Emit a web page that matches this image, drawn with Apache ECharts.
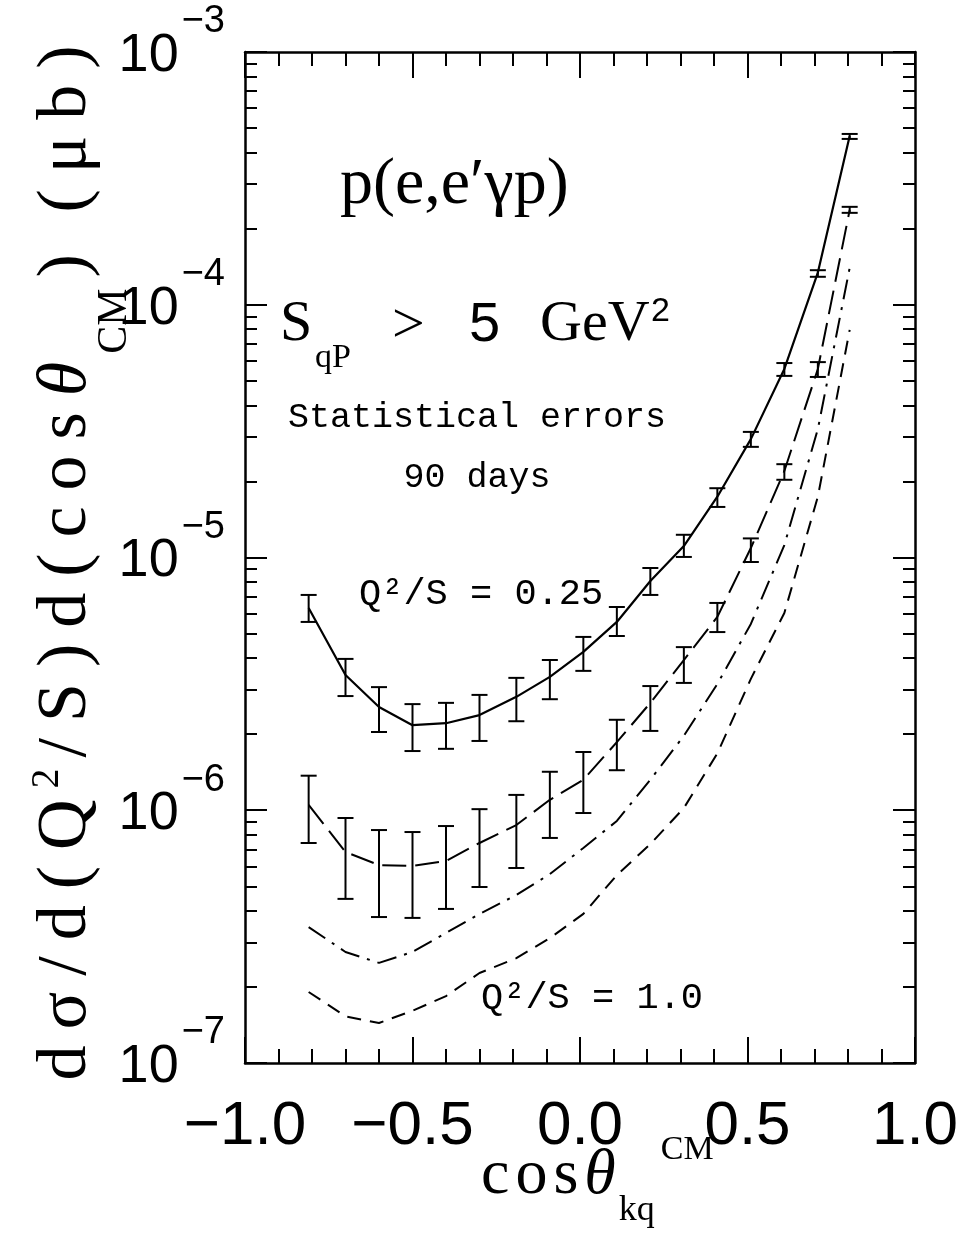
<!DOCTYPE html>
<html><head><meta charset="utf-8">
<script src="https://cdn.jsdelivr.net/npm/echarts@6/dist/echarts.min.js"></script>
<style>html,body{margin:0;padding:0;background:#fff}#c{width:971px;height:1236px}</style>
</head><body><div id="c"></div>
<script>
// ---- data ----
const cosTheta = [-0.81,-0.70,-0.60,-0.50,-0.40,-0.30,-0.19,-0.09,0.01,0.11,0.21,0.31,0.41,0.51,0.61,0.71,0.805];
// Q^2/S = 0.25 (solid, with statistical errors)
const sigma025     = [6.31e-6,3.43e-6,2.56e-6,2.17e-6,2.21e-6,2.38e-6,2.81e-6,3.37e-6,4.23e-6,5.56e-6,8.07e-6,1.11e-5,1.74e-5,2.94e-5,5.57e-5,1.34e-4,4.65e-4];
const sigma025Low  = [5.56e-6,2.83e-6,2.04e-6,1.715e-6,1.75e-6,1.88e-6,2.25e-6,2.75e-6,3.56e-6,4.89e-6,7.11e-6,1.005e-5,1.585e-5,2.74e-5,5.23e-5,1.29e-4,4.53e-4];
const sigma025High = [7.11e-6,3.97e-6,3.07e-6,2.63e-6,2.66e-6,2.86e-6,3.34e-6,3.93e-6,4.85e-6,6.37e-6,9.09e-6,1.23e-5,1.88e-5,3.14e-5,5.88e-5,1.37e-4,4.74e-4];
// long-dashed curve with statistical errors
const sigmaB     = [1.05e-6,6.84e-7,6.07e-7,6.02e-7,6.30e-7,7.42e-7,8.74e-7,1.10e-6,1.32e-6,1.86e-6,2.66e-6,3.93e-6,5.82e-6,1.09e-5,2.20e-5,5.57e-5,2.37e-4];
const sigmaBLow  = [7.42e-7,4.46e-7,3.78e-7,3.75e-7,4.07e-7,4.97e-7,5.91e-7,7.77e-7,9.75e-7,1.44e-6,2.06e-6,3.19e-6,5.07e-6,9.60e-6,2.03e-5,5.18e-5,2.31e-4];
const sigmaBHigh = [1.37e-6,9.32e-7,8.35e-7,8.20e-7,8.66e-7,1.01e-6,1.15e-6,1.42e-6,1.70e-6,2.28e-6,3.10e-6,4.42e-6,6.61e-6,1.19e-5,2.34e-5,5.93e-5,2.44e-4];
// dash-dot curve
const sigmaC  = [3.45e-7,2.75e-7,2.49e-7,2.75e-7,3.27e-7,3.89e-7,4.62e-7,5.59e-7,7.09e-7,9.07e-7,1.32e-6,1.97e-6,3.16e-6,5.46e-6,1.12e-5,3.22e-5,1.40e-4];
// Q^2/S = 1.0 (short-dashed)
const sigma10 = [1.91e-7,1.53e-7,1.44e-7,1.61e-7,1.84e-7,2.27e-7,2.60e-7,3.12e-7,3.89e-7,5.54e-7,7.35e-7,1.02e-6,1.68e-6,3.31e-6,6.03e-6,1.74e-5,7.95e-5];

// ---- ticks ----
const xTickValues = [-1.0,-0.5,0.0,0.5,1.0];
const yDecadeExponents = [-7,-6,-5,-4,-3];
const minorMultipliers = [2,3,4,5,6,7,8,9];
const yMinorTicks = [];
yDecadeExponents.slice(0,-1).forEach(e => minorMultipliers.forEach(m => yMinorTicks.push(+(m*Math.pow(10,e)).toPrecision(3))));

const SERIF = "'Liberation Serif','DejaVu Serif',serif";
const SANS = "'Liberation Sans',Arial,sans-serif";
const NARROW = "'Liberation Sans Narrow','Liberation Sans',sans-serif";
const MONO = "'Liberation Mono','DejaVu Sans Mono',monospace";
const BLACK = '#000';

function pairs(ys){ return cosTheta.map((x,i)=>[x, ys[i]]); }
function spaced(str, key){ return Array.from(str).map(ch=>'{'+(ch==='\u03b8'?key+'i':key)+'|'+ch+'}').join(''); }

function curve(name, ys, dash, width){
  return {name, type:'line', data:pairs(ys), showSymbol:false, symbol:'none', silent:true,
    lineStyle:{color:BLACK, width:width||2, type:dash, cap:'butt'}, z:2};
}
function errorBars(name, lo, hi){
  return {name, type:'custom', silent:true, z:3,
    data: cosTheta.map((x,i)=>[x, lo[i], hi[i]]),
    encode:{x:0, y:[1,2]},
    renderItem:(params, api)=>{
      const x = api.value(0);
      const a = api.coord([x, api.value(1)]);
      const b = api.coord([x, api.value(2)]);
      const w = 8, st = {stroke:BLACK, lineWidth:2};
      return {type:'group', children:[
        {type:'line', shape:{x1:a[0],y1:a[1],x2:b[0],y2:b[1]}, style:st},
        {type:'line', shape:{x1:a[0]-w,y1:a[1],x2:a[0]+w,y2:a[1]}, style:st},
        {type:'line', shape:{x1:b[0]-w,y1:b[1],x2:b[0]+w,y2:b[1]}, style:st}
      ]};
    }};
}

const xAxisBase = {type:'value', min:-1, max:1, interval:0.5,
  splitLine:{show:false}, minorSplitLine:{show:false},
  axisLine:{show:true, onZero:false, lineStyle:{color:BLACK, width:2.5}},
  axisTick:{show:true, inside:true, length:26, lineStyle:{color:BLACK, width:2}},
  minorTick:{show:true, splitNumber:5, length:14, lineStyle:{color:BLACK, width:2}}};

const yMajor = pos => ({type:'log', logBase:10, min:1e-7, max:1e-3, position:pos,
  splitLine:{show:false},
  axisLine:{show:true, onZero:false, lineStyle:{color:BLACK, width:2.5}},
  axisTick:{show:true, inside:true, length:22, lineStyle:{color:BLACK, width:2}},
  axisLabel:{show:false}});
const yMinor = pos => ({type:'log', logBase:10, min:1e-7, max:1e-3, position:pos,
  splitLine:{show:false}, axisLine:{show:false, onZero:false},
  axisTick:{show:true, inside:true, length:12, customValues:yMinorTicks, lineStyle:{color:BLACK, width:2}},
  axisLabel:{show:false}});

const yLeft = yMajor('left');
yLeft.axisLabel = {show:true, margin:20, showMinLabel:true, showMaxLabel:true,
  formatter: v => '{b|10}{e|\u2212' + (-Math.round(Math.log10(v))) + '}',
  rich:{
    b:{fontFamily:SANS, fontSize:54, color:BLACK, verticalAlign:'middle', padding:[8,0,0,0]},
    e:{fontFamily:SANS, fontSize:38, color:BLACK, verticalAlign:'middle', padding:[0,0,60,3]}
  }};

const yTitle = spaced('d\u03c3/d(Q','c') + '{sup|2}' + spaced('/S)d(cos\u03b8','c') + '{sub|CM}' + spaced(')','c') + '{gap| }' + spaced('(\u03bcb)','c');
const xTitle = spaced('cos\u03b8','m') + '{sub|kq}{sup|CM}';

const option = {
  animation:false,
  backgroundColor:'#fff',
  grid:{left:245, right:56, top:52, bottom:173, containLabel:false},
  xAxis:[
    Object.assign({}, xAxisBase, {position:'bottom',
      axisLabel:{show:true, margin:33, showMinLabel:true, showMaxLabel:true, color:BLACK,
        fontFamily:NARROW, fontSize:62, customValues:xTickValues,
        formatter: v => (v < 0 ? '\u2212' : '') + Math.abs(v).toFixed(1)}}),
    Object.assign({}, xAxisBase, {position:'top', axisLabel:{show:false}})
  ],
  yAxis:[ yLeft, yMajor('right'), yMinor('left'), yMinor('right') ],
  series:[
    curve('Q2/S = 0.25', sigma025, 'solid', 2.2),
    errorBars('Q2/S = 0.25 errors', sigma025Low, sigma025High),
    curve('long dashed', sigmaB, [24,9]),
    errorBars('long dashed errors', sigmaBLow, sigmaBHigh),
    curve('dash-dot', sigmaC, [20,8,3,8]),
    curve('Q2/S = 1.0', sigma10, [14,9])
  ],
  graphic:[
    // y-axis title
    {type:'text', x:67, y:563, rotation:Math.PI/2, silent:true,
      style:{text:yTitle, align:'center', verticalAlign:'middle', textAlign:'center', textVerticalAlign:'middle', fill:BLACK,
        rich:{
          c:{fontFamily:SERIF, fontSize:70, fill:BLACK, verticalAlign:'middle', padding:[0,8,0,8]},
          ci:{fontFamily:SERIF, fontStyle:'italic', fontSize:70, fill:BLACK, verticalAlign:'middle', padding:[0,8,0,8]},
          gap:{fontFamily:SERIF, fontSize:70, fill:BLACK, verticalAlign:'middle', padding:[0,4,0,4]},
          sup:{fontFamily:SERIF, fontSize:40, fill:BLACK, verticalAlign:'middle', padding:[0,3,40,3]},
          sub:{fontFamily:SERIF, fontSize:42, fill:BLACK, verticalAlign:'middle', padding:[96,3,0,0]}
        }}},
    // x-axis title
    {type:'text', x:478, y:1176, silent:true,
      style:{text:xTitle, align:'left', verticalAlign:'middle', textAlign:'left', textVerticalAlign:'middle', fill:BLACK,
        rich:{
          m:{fontFamily:SERIF, fontSize:64, fill:BLACK, verticalAlign:'middle', padding:[0,3,0,3]},
          mi:{fontFamily:SERIF, fontStyle:'italic', fontSize:64, fill:BLACK, verticalAlign:'middle', padding:[0,3,0,3]},
          sub:{fontFamily:SERIF, fontSize:36, fill:BLACK, verticalAlign:'middle', padding:[70,0,0,0]},
          sup:{fontFamily:SERIF, fontSize:34, fill:BLACK, verticalAlign:'middle', padding:[0,0,52,6]}
        }}},
    // annotations
    {type:'text', x:340, y:186, silent:true, style:{text:'p(e,e\u2032\u03b3p)', fontFamily:SERIF, fontSize:66, fill:BLACK, align:'left', verticalAlign:'middle', textAlign:'left', textVerticalAlign:'middle'}},
    {type:'text', x:280, y:325, silent:true, style:{text:'S', fontFamily:SERIF, fontSize:58, fill:BLACK, align:'left', verticalAlign:'middle', textAlign:'left', textVerticalAlign:'middle'}},
    {type:'text', x:315, y:358, silent:true, style:{text:'qP', fontFamily:SERIF, fontSize:34, fill:BLACK, align:'left', verticalAlign:'middle', textAlign:'left', textVerticalAlign:'middle'}},
    {type:'text', x:392, y:327, silent:true, style:{text:'>', fontFamily:SERIF, fontSize:58, fill:BLACK, align:'left', verticalAlign:'middle', textAlign:'left', textVerticalAlign:'middle'}},
    {type:'text', x:469, y:326, silent:true, style:{text:'5', fontFamily:SANS, fontSize:56, fill:BLACK, align:'left', verticalAlign:'middle', textAlign:'left', textVerticalAlign:'middle'}},
    {type:'text', x:540, y:325, silent:true, style:{text:'GeV', fontFamily:SERIF, fontSize:58, fill:BLACK, align:'left', verticalAlign:'middle', textAlign:'left', textVerticalAlign:'middle'}},
    {type:'text', x:651, y:312, silent:true, style:{text:'2', fontFamily:SANS, fontSize:34, fill:BLACK, align:'left', verticalAlign:'middle', textAlign:'left', textVerticalAlign:'middle'}},
    {type:'text', x:477, y:418, silent:true, style:{text:'Statistical errors', fontFamily:MONO, fontSize:35, fill:BLACK, align:'center', verticalAlign:'middle', textAlign:'center', textVerticalAlign:'middle'}},
    {type:'text', x:477, y:478, silent:true, style:{text:'90 days', fontFamily:MONO, fontSize:35, fill:BLACK, align:'center', verticalAlign:'middle', textAlign:'center', textVerticalAlign:'middle'}},
    {type:'text', x:359, y:594, silent:true, style:{text:'Q\u00b2/S = 0.25', fontFamily:MONO, fontSize:37, fill:BLACK, align:'left', verticalAlign:'middle', textAlign:'left', textVerticalAlign:'middle'}},
    {type:'text', x:481, y:998, silent:true, style:{text:'Q\u00b2/S = 1.0', fontFamily:MONO, fontSize:37, fill:BLACK, align:'left', verticalAlign:'middle', textAlign:'left', textVerticalAlign:'middle'}}
  ]
};
const chart = echarts.init(document.getElementById('c'), null, {renderer:'canvas', width:971, height:1236});
chart.setOption(option);
</script>
</body></html>
